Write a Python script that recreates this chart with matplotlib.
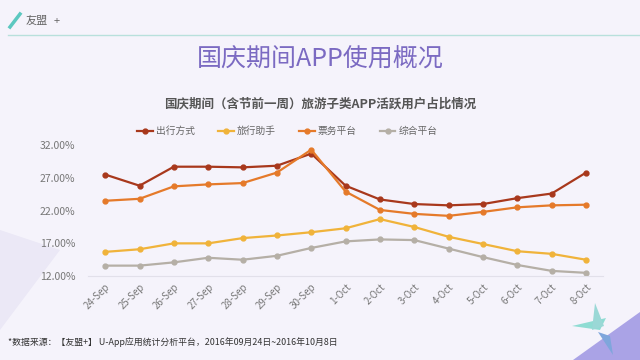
import numpy as np
import matplotlib.pyplot as plt
from matplotlib.patches import Polygon
from matplotlib.ticker import FuncFormatter

plt.rcParams["font.family"] = ["Noto Sans CJK SC", "DejaVu Sans"]

dates = ["24-Sep", "25-Sep", "26-Sep", "27-Sep", "28-Sep", "29-Sep", "30-Sep",
         "1-Oct", "2-Oct", "3-Oct", "4-Oct", "5-Oct", "6-Oct", "7-Oct", "8-Oct"]

chuxing = [27.5, 25.8, 28.7, 28.7, 28.6, 28.85, 30.7, 25.8, 23.7, 23.0, 22.8, 23.0, 23.9, 24.6, 27.8]
lvxing = [15.7, 16.1, 17.0, 17.0, 17.8, 18.2, 18.7, 19.3, 20.7, 19.5, 18.0, 16.9, 15.8, 15.4, 14.5]
piaowu = [23.5, 23.8, 25.7, 26.0, 26.2, 27.8, 31.3, 24.9, 22.1, 21.5, 21.2, 21.8, 22.5, 22.8, 22.9]
zonghe = [13.6, 13.6, 14.1, 14.8, 14.5, 15.1, 16.3, 17.3, 17.6, 17.5, 16.2, 14.9, 13.7, 12.8, 12.5]

series = [
    ("出行方式", chuxing, "#a8381c"),
    ("旅行助手", lvxing, "#f0b33a"),
    ("票务平台", piaowu, "#e57a2a"),
    ("综合平台", zonghe, "#b5afa6"),
]

fig = plt.figure(figsize=(6.4, 3.6), dpi=100)
fig.patch.set_facecolor("#f5f3fb")

# background decorations
bg = fig.add_axes([0, 0, 1, 1], zorder=-10)
bg.set_xlim(0, 640)
bg.set_ylim(360, 0)
bg.axis("off")
bg.add_patch(Polygon([[0, 230], [60, 250], [0, 330]], closed=True, color="#ebe8f6", lw=0))
bg.add_patch(Polygon([[573, 360], [640, 312], [640, 360]], closed=True, color="#aaa3e6", lw=0))
bg.add_patch(Polygon([[572, 326], [600, 330], [606, 318]], closed=True, color="#8fdcd3", lw=0))
bg.add_patch(Polygon([[595, 303], [604, 326], [592, 330]], closed=True, color="#9ad8d6", lw=0))
bg.add_patch(Polygon([[598, 332], [610, 336], [613, 355]], closed=True, color="#7fa6dc", lw=0))
bg.plot([8, 640], [35, 35], color="#b8e0dc", lw=1.0)
bg.plot([10, 20], [27, 14], color="#5cc8c0", lw=2.5)
bg.text(26, 21, "友盟", fontsize=8, color="#666666", va="center")
bg.text(54, 21, "+", fontsize=8, color="#666666", va="center")

fig.text(0.5, 0.835, "国庆期间APP使用概况", ha="center", va="center",
         fontsize=18, color="#7b6ac2")
fig.text(0.5, 0.71, "国庆期间（含节前一周）旅游子类APP活跃用户占比情况", ha="center",
         va="center", fontsize=9, color="#555555", fontweight="bold")
fig.text(0.012, 0.05, "*数据来源：【友盟+】 U-App应用统计分析平台，2016年09月24日~2016年10月8日",
         ha="left", va="center", fontsize=6.4, color="#333333")

ax = fig.add_axes([0.1375, 0.233, 0.805, 0.364])
ax.set_facecolor("none")
x = np.arange(len(dates))
for name, vals, color in series:
    ax.plot(x, vals, color=color, lw=1.6, marker="o", markersize=3.5, label=name)

ax.set_xlim(-0.5, len(dates) - 0.5)
ax.set_ylim(12, 32)
ax.set_yticks([12, 17, 22, 27, 32])
ax.yaxis.set_major_formatter(FuncFormatter(lambda v, p: f"{v:.2f}%"))
ax.set_xticks(x)
ax.set_xticklabels(dates, rotation=45, ha="right", va="top", rotation_mode="anchor")
ax.tick_params(axis="both", length=0, labelsize=7, colors="#777777")
ax.tick_params(axis="y", pad=9, labelsize=7.5)
ax.tick_params(axis="x", pad=4)
for side in ["top", "right", "left"]:
    ax.spines[side].set_visible(False)
ax.spines["bottom"].set_color("#e2e0ea")

leg = ax.legend(loc="lower center", bbox_to_anchor=(0.387, 1.0), ncol=4, frameon=False,
                fontsize=7, handlelength=1.6, columnspacing=2.4, handletextpad=0.3)
for t in leg.get_texts():
    t.set_color("#666666")

fig.savefig("out.png", dpi=100, facecolor=fig.get_facecolor())
